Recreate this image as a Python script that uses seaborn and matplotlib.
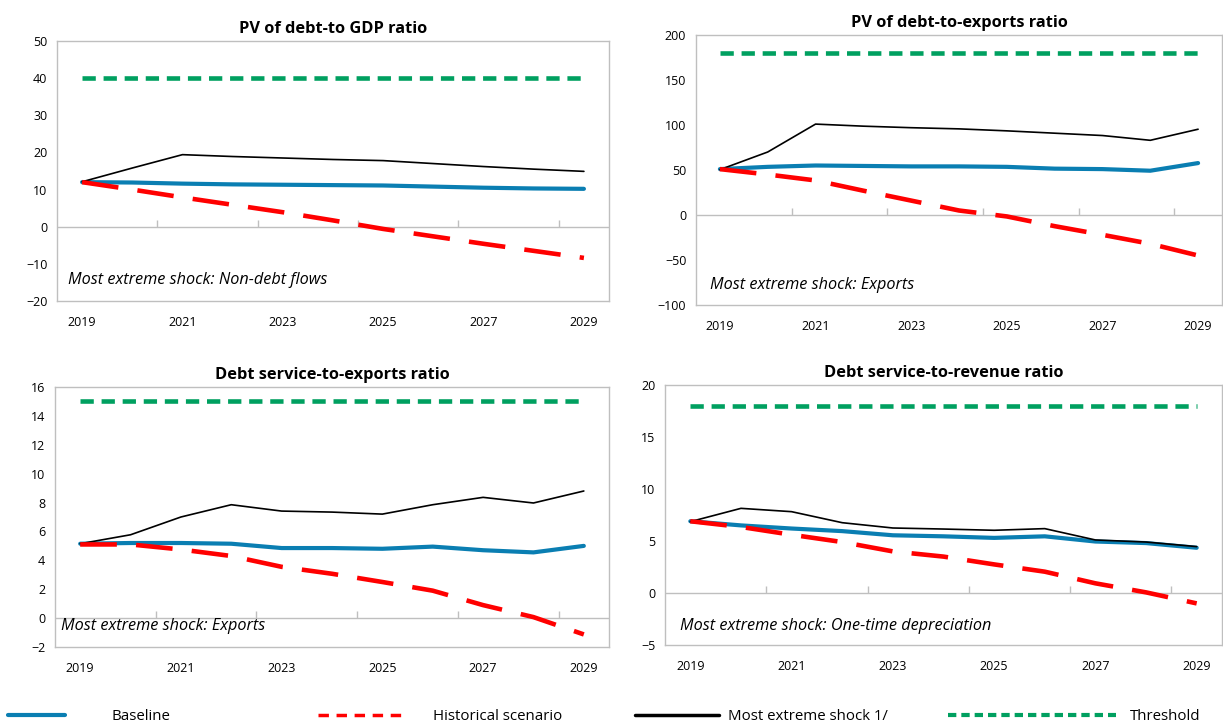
import matplotlib
matplotlib.use("Agg")
import matplotlib.pyplot as plt
import seaborn as sns
from matplotlib.lines import Line2D

# Data
years = [2019, 2020, 2021, 2022, 2023, 2024, 2025, 2026, 2027, 2028, 2029]
label_years = [2019, 2021, 2023, 2025, 2027, 2029]

gdp_baseline = [12.0, 11.9, 11.6, 11.4, 11.3, 11.2, 11.1, 10.8, 10.5, 10.3, 10.2]
gdp_hist = [12.0, 10.0, 7.9, 5.9, 3.9, 1.7, -0.6, -2.6, -4.6, -6.5, -8.4]
gdp_shock = [12.1, 15.8, 19.4, 18.9, 18.5, 18.1, 17.8, 17.0, 16.2, 15.5, 14.9]
gdp_threshold = [40, 40, 40, 40, 40, 40, 40, 40, 40, 40, 40]

exp_baseline = [51.0, 53.5, 55.0, 54.5, 54.0, 54.0, 53.5, 51.5, 51.0, 49.2, 57.7]
exp_hist = [51.0, 45.0, 38.4, 27.0, 16.0, 5.0, -1.6, -12.4, -22.0, -32.0, -45.0]
exp_shock = [50.4, 70.0, 101.0, 98.7, 97.0, 95.7, 93.5, 90.9, 88.3, 83.0, 95.3]
exp_threshold = [180, 180, 180, 180, 180, 180, 180, 180, 180, 180, 180]

dse_baseline = [5.15, 5.2, 5.2, 5.15, 4.85, 4.85, 4.8, 4.95, 4.7, 4.55, 5.0]
dse_hist = [5.1, 5.1, 4.75, 4.3, 3.55, 3.07, 2.5, 1.9, 0.9, 0.07, -1.13]
dse_shock = [5.15, 5.77, 7.0, 7.85, 7.41, 7.34, 7.2, 7.85, 8.36, 7.97, 8.8]
dse_threshold = [15, 15, 15, 15, 15, 15, 15, 15, 15, 15, 15]

dsr_baseline = [6.9, 6.5, 6.2, 5.95, 5.55, 5.45, 5.3, 5.45, 4.95, 4.8, 4.35]
dsr_hist = [6.9, 6.35, 5.6, 4.9, 4.0, 3.5, 2.75, 2.05, 0.93, 0.06, -1.0]
dsr_shock = [6.86, 8.14, 7.82, 6.76, 6.25, 6.15, 6.03, 6.19, 5.1, 4.9, 4.46]
dsr_threshold = [18, 18, 18, 18, 18, 18, 18, 18, 18, 18, 18]

series_names = ["Baseline", "Historical scenario", "Most extreme shock 1/", "Threshold"]

BLUE = "#0A7EB2"
RED = "#FF0000"
GREEN = "#00A060"
FRAME = "#BFBFBF"

sns.set_style("white")
plt.rcParams["font.family"] = ["Open Sans", "DejaVu Sans"]
plt.rcParams["text.color"] = "black"
plt.rcParams["xtick.color"] = "black"
plt.rcParams["ytick.color"] = "black"

W, H = 1223, 725
fig = plt.figure(figsize=(W / 100, H / 100), dpi=100)


def px_rect(left, top, right, bottom):
    return [left / W, 1 - bottom / H, (right - left) / W, (bottom - top) / H]


panels = [
    ("PV of debt-to GDP ratio", gdp_baseline, gdp_hist, gdp_shock, gdp_threshold,
     (-20, 50, 10), "Most extreme shock: Non-debt flows", px_rect(57, 41, 609, 301), (0.02, 0.08)),
    ("PV of debt-to-exports ratio", exp_baseline, exp_hist, exp_shock, exp_threshold,
     (-100, 200, 50), "Most extreme shock: Exports", px_rect(696, 35, 1222, 305), (0.027, 0.075)),
    ("Debt service-to-exports ratio", dse_baseline, dse_hist, dse_shock, dse_threshold,
     (-2, 16, 2), "Most extreme shock: Exports", px_rect(55, 387, 609, 647), (0.01, 0.08)),
    ("Debt service-to-revenue ratio", dsr_baseline, dsr_hist, dsr_shock, dsr_threshold,
     (-5, 20, 5), "Most extreme shock: One-time depreciation", px_rect(665, 385, 1222, 645), (0.027, 0.073)),
]

for title, base, hist, shock, thr, (lo, hi, step), note, rect, note_xy in panels:
    ax = fig.add_axes(rect)

    sns.lineplot(x=years, y=thr, ax=ax, color=GREEN, linewidth=3.3,
                 linestyle=(0, (2.9, 1.7)), zorder=2)
    sns.lineplot(x=years, y=base, ax=ax, color=BLUE, linewidth=3.0, zorder=3)
    sns.lineplot(x=years, y=shock, ax=ax, color="black", linewidth=1.2, zorder=4)
    sns.lineplot(x=years, y=hist, ax=ax, color=RED, linewidth=3.3,
                 linestyle=(0, (8.0, 4.2)), zorder=5)

    ax.set_xlim(2018.5, 2029.5)
    ax.set_ylim(lo, hi)
    ax.set_yticks(list(range(lo, hi + 1, step)))
    ax.set_xticks(label_years)
    ax.tick_params(axis="x", length=0, pad=11, labelsize=9)
    ax.tick_params(axis="y", length=4, color=FRAME, width=1, direction="out", labelsize=9, pad=3)
    for sp in ax.spines.values():
        sp.set_color(FRAME)
        sp.set_linewidth(1)

    # zero axis line with in-between category ticks
    ax.axhline(0, color=FRAME, linewidth=1, zorder=1)
    sec = ax.secondary_xaxis((0 - lo) / (hi - lo))
    sec.set_xticks([2020.5, 2022.5, 2024.5, 2026.5, 2028.5], labels=[])
    sec.tick_params(direction="in", length=5, color=FRAME, width=1)
    for sp in sec.spines.values():
        sp.set_visible(False)

    ax.set_xlabel("")
    ax.set_ylabel("")
    ax.set_title(title, fontsize=11.8, fontweight="bold", pad=6)
    ax.text(note_xy[0], note_xy[1], note, transform=ax.transAxes,
            fontsize=11.7, style="italic", va="center", ha="left")

# Legend along the bottom
handles = [
    Line2D([], [], color=BLUE, linewidth=3.0),
    Line2D([], [], color=RED, linewidth=2.5, linestyle=(0, (3.0, 2.2))),
    Line2D([], [], color="black", linewidth=2.5),
    Line2D([], [], color=GREEN, linewidth=3.0, linestyle=(0, (2.0, 1.2))),
]
legend_spots = [(8, 3.8, 3.1), (318, 5.9, 1.8), (635, 5.6, 0.6), (948, 11.2, 0.9)]
for h, name, (x0, hl, tp) in zip(handles, series_names, legend_spots):
    fig.legend([h], [name], loc="center left", bbox_to_anchor=(x0 / W, 1 - 717 / H),
               frameon=False, fontsize=10.8, handlelength=hl, handletextpad=tp,
               borderaxespad=0, borderpad=0)

fig.savefig("out.png", dpi=100)
